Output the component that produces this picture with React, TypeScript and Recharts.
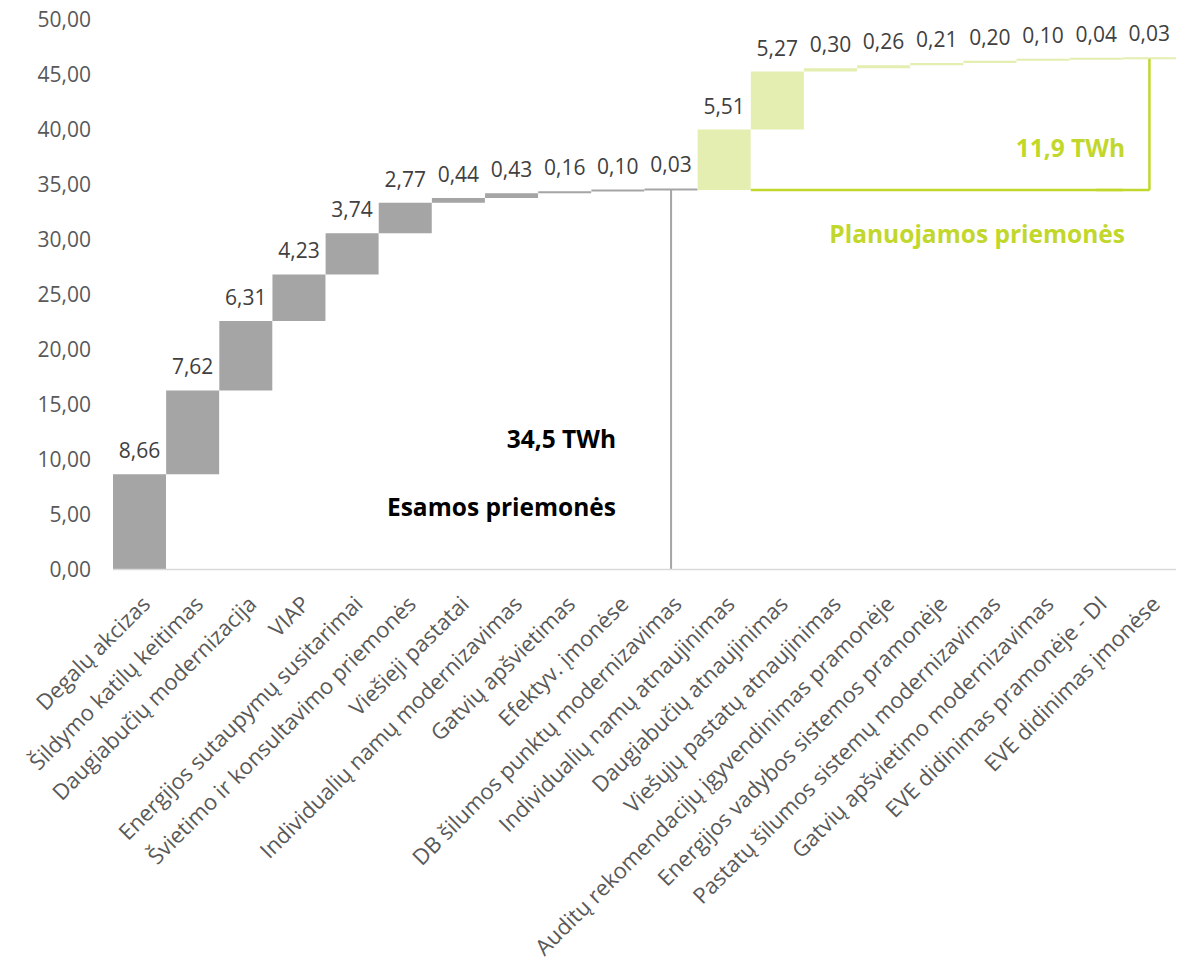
import {
  Bar,
  Cell,
  ComposedChart,
  Customized,
  LabelList,
  ReferenceLine,
  XAxis,
  YAxis,
} from "recharts";

// measures already in place (TWh)
const existingNames = [
  "Degalų akcizas",
  "Šildymo katilų keitimas",
  "Daugiabučių modernizacija",
  "VIAP",
  "Energijos sutaupymų susitarimai",
  "Švietimo ir konsultavimo priemonės",
  "Viešieji pastatai",
  "Individualių namų modernizavimas",
  "Gatvių apšvietimas",
  "Efektyv. įmonėse",
  "DB šilumos punktų modernizavimas",
];
const existingValues = [8.66, 7.62, 6.31, 4.23, 3.74, 2.77, 0.44, 0.43, 0.16, 0.1, 0.03];

// planned measures (TWh)
const plannedNames = [
  "Individualių namų atnaujinimas",
  "Daugiabučių atnaujinimas",
  "Viešųjų pastatų atnaujinimas",
  "Auditų rekomendacijų įgyvendinimas pramonėje",
  "Energijos vadybos sistemos pramonėje",
  "Pastatų šilumos sistemų modernizavimas",
  "Gatvių apšvietimo modernizavimas",
  "EVE didinimas pramonėje - DI",
  "EVE didinimas įmonėse",
];
const plannedValues = [5.51, 5.27, 0.3, 0.26, 0.21, 0.2, 0.1, 0.04, 0.03];

const yTicks = [0, 5, 10, 15, 20, 25, 30, 35, 40, 45, 50];

const existingTotalText = "34,5 TWh";
const existingGroupText = "Esamos priemonės";
const plannedTotalText = "11,9 TWh";
const plannedGroupText = "Planuojamos priemonės";

const GREY = "#A5A5A5";
const LIGHT_GREEN = "#E3EEB0";
const GREEN = "#C2D72C";
const FONT = "'Open Sans', sans-serif";

const names = [...existingNames, ...plannedNames];
const values = [...existingValues, ...plannedValues];

let running = 0;
const rows = names.map((name, i) => {
  const base = running;
  running += values[i];
  return { name, base, value: values[i], planned: i >= existingNames.length };
});
const existingTotal = existingValues.reduce((a, b) => a + b, 0);
const grandTotal = running;

const lastExisting = existingNames[existingNames.length - 1];
const secondPlanned = plannedNames[1];
const lastPlanned = plannedNames[plannedNames.length - 1];
const beforeLastPlanned = plannedNames[plannedNames.length - 2];

const fmt = (v: number) => Number(v).toFixed(2).replace(".", ",");

function CategoryTick({ x, y, payload }: any) {
  return (
    <text
      transform={`translate(${x + 12},${y + 36}) rotate(-45)`}
      textAnchor="end"
      fill="#595959"
      fontSize={22}
      fontFamily={FONT}
    >
      {payload.value}
    </text>
  );
}

function Notes() {
  return (
    <g fontFamily={FONT} fontWeight={700} fontSize={24.5} textAnchor="end">
      <text x={616} y={448} fill="#000">
        {existingTotalText}
      </text>
      <text x={616} y={516} fill="#000">
        {existingGroupText}
      </text>
      <text x={1125} y={157} fill={GREEN}>
        {plannedTotalText}
      </text>
      <text x={1125} y={243} fill={GREEN}>
        {plannedGroupText}
      </text>
    </g>
  );
}

export default function App() {
  return (
    <div style={{ position: "absolute", left: 0, top: 0, background: "#fff" }}>
      <ComposedChart
        width={1179}
        height={976}
        data={rows}
        margin={{ top: 19.5, right: 3, left: 0, bottom: 6.5 }}
        barCategoryGap={0}
        barGap={0}
      >
        <XAxis
          dataKey="name"
          interval={0}
          height={400}
          tickLine={false}
          tickSize={0}
          tickMargin={0}
          axisLine={{ stroke: "#D9D9D9", strokeWidth: 1.5 }}
          tick={<CategoryTick />}
        />
        <YAxis
          width={113}
          domain={[0, 50]}
          ticks={yTicks}
          tickFormatter={fmt}
          axisLine={false}
          tickLine={false}
          tickSize={0}
          tickMargin={22}
          tick={{ fontSize: 21, fill: "#595959", fontFamily: FONT }}
        />
        <Bar dataKey="base" stackId="w" fill="transparent" isAnimationActive={false} />
        <Bar dataKey="value" stackId="w" minPointSize={2} isAnimationActive={false}>
          {rows.map((r) => (
            <Cell key={r.name} fill={r.planned ? LIGHT_GREEN : GREY} />
          ))}
          <LabelList
            dataKey="value"
            position="top"
            offset={16}
            formatter={(v: any) => fmt(Number(v))}
            style={{ fontSize: 21, fill: "#404040", fontFamily: FONT }}
          />
        </Bar>
        {/* divider between existing and planned measures */}
        <ReferenceLine
          position="middle"
          segment={[
            { x: lastExisting, y: 0 },
            { x: lastExisting, y: existingTotal },
          ]}
          stroke={GREY}
          strokeWidth={2}
        />
        {/* green bracket around planned total */}
        <ReferenceLine
          position="start"
          segment={[
            { x: secondPlanned, y: existingTotal },
            { x: lastPlanned, y: existingTotal },
          ]}
          stroke={GREEN}
          strokeWidth={2.5}
        />
        <ReferenceLine
          position="middle"
          segment={[
            { x: beforeLastPlanned, y: existingTotal },
            { x: lastPlanned, y: existingTotal },
          ]}
          stroke={GREEN}
          strokeWidth={2.5}
        />
        <ReferenceLine
          position="middle"
          segment={[
            { x: lastPlanned, y: existingTotal },
            { x: lastPlanned, y: grandTotal },
          ]}
          stroke={GREEN}
          strokeWidth={2.5}
        />
        <Customized component={Notes} />
      </ComposedChart>
    </div>
  );
}
